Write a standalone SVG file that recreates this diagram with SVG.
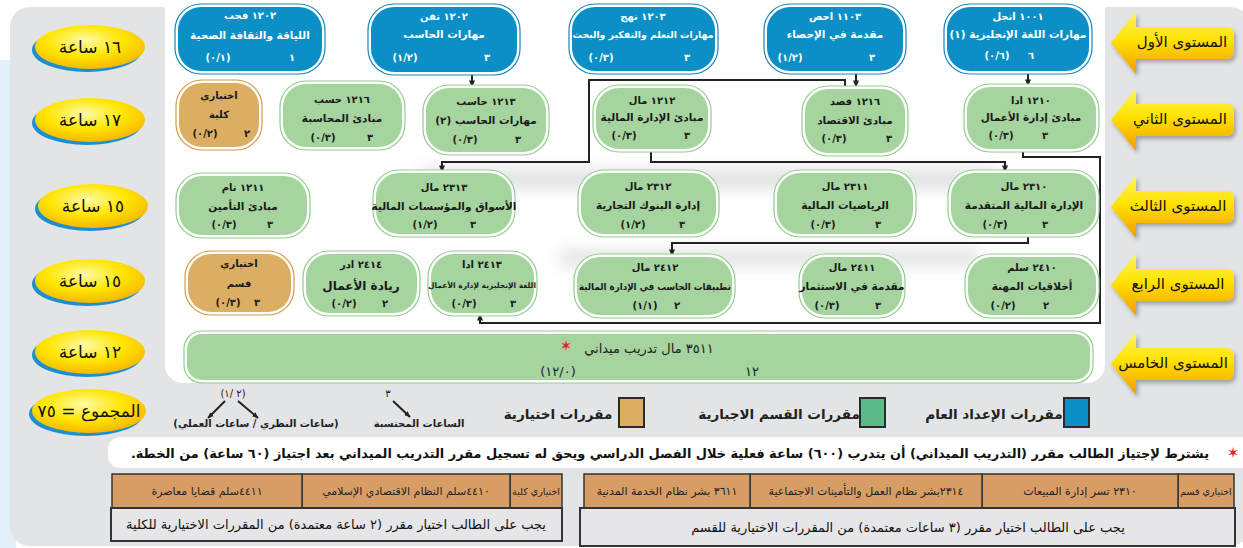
<svg xmlns="http://www.w3.org/2000/svg" width="1243" height="548" viewBox="0 0 1243 548">
<defs>
<style>
text{font-family:"DejaVu Sans",sans-serif;}
.ar{direction:rtl;text-anchor:middle}
.num{direction:ltr;unicode-bidi:bidi-override;text-anchor:middle}
.w{fill:#ffffff;font-weight:bold}
.k{fill:#1a1a1a;font-weight:bold}
.s1{font-size:10px}
.s2{font-size:10.5px}
.ob{fill:#ffffff;stroke:#1587bd;stroke-width:1.2}
.ib{fill:#0b8fc6;stroke:none}
.og{fill:#ffffff;stroke:#93cc8c;stroke-width:1.2}
.ig{fill:#a5d49f;stroke:none}
.ot{fill:#ffffff;stroke:#d49a48;stroke-width:1.2}
.it{fill:#dbae64;stroke:none}
.conn{fill:none;stroke:#222;stroke-width:2;marker-end:url(#ah)}
.lvl{font-size:15px;fill:#111;direction:rtl;text-anchor:middle}
.ovt{font-size:17px;fill:#111;direction:rtl;text-anchor:middle}
.lg{font-size:13.5px;font-weight:bold;fill:#222;direction:rtl;text-anchor:middle}
.tc{font-size:11px;fill:#222;direction:rtl;text-anchor:middle}
.tcs{font-size:9.5px;fill:#222;direction:rtl;text-anchor:middle}
.tb{font-size:13px;fill:#111;direction:rtl;text-anchor:middle}
.cell{fill:#d89d65;stroke:#333;stroke-width:1.5}
.cell2{fill:#e6e6e8;stroke:#333;stroke-width:2}
</style>
<marker id="ah" viewBox="0 0 8 8" refX="7.5" refY="4" markerWidth="7" markerHeight="7" markerUnits="userSpaceOnUse" orient="auto"><path d="M0,0.5 L8,4 L0,7.5 z" fill="#222"/></marker>
<marker id="ah2" viewBox="0 0 8 8" refX="7.5" refY="4" markerWidth="6" markerHeight="6" markerUnits="userSpaceOnUse" orient="auto"><path d="M0,0.5 L8,4 L0,7.5 z" fill="#222"/></marker>
<linearGradient id="yarrow" x1="0" y1="0" x2="0" y2="1"><stop offset="0" stop-color="#fff46a"/><stop offset="0.45" stop-color="#ffe300"/><stop offset="1" stop-color="#f39a00"/></linearGradient>
<radialGradient id="yov" cx="0.45" cy="0.35" r="0.7"><stop offset="0" stop-color="#fffaa8"/><stop offset="0.5" stop-color="#ffe600"/><stop offset="1" stop-color="#f5b000"/></radialGradient>
<filter id="sh" x="-20%" y="-30%" width="150%" height="170%"><feDropShadow dx="2" dy="3" stdDeviation="2" flood-color="#000" flood-opacity="0.3"/></filter>
<filter id="blur" x="-20%" y="-100%" width="140%" height="300%"><feGaussianBlur stdDeviation="7"/></filter>
<path id="arr" d="M1111,2 L1136,-30 L1136,-14 L1226,-14 Q1234,-14 1234,-6 L1234,10 Q1234,18 1226,18 L1136,18 L1136,33 Z"/>
</defs>

<!-- background -->
<rect x="0" y="0" width="1243" height="548" fill="#ffffff"/>
<rect x="0" y="60" width="16" height="488" fill="#e2f0fa"/>
<rect x="10" y="7" width="1240" height="539" rx="20" fill="#e3e4e6"/>
<rect x="165" y="-20" width="940" height="403" rx="18" fill="#ffffff"/>
<rect x="108" y="437" width="1150" height="31" rx="12" fill="#ffffff"/>
<rect x="420" y="168" width="580" height="22" fill="#c4c5c7" opacity="0.45" filter="url(#blur)"/>
<rect x="560" y="248" width="420" height="20" fill="#c4c5c7" opacity="0.4" filter="url(#blur)"/>
<rect x="560" y="338" width="200" height="14" fill="#9bb597" opacity="0.35" filter="url(#blur)"/>

<!-- left hour ovals -->
<g id="hours1"><ellipse cx="87" cy="50" rx="55" ry="22" fill="#1b8fd2"/><ellipse cx="90" cy="47" rx="55" ry="22" fill="url(#yov)"/><text class="ovt" x="90" y="53">١٦ ساعة</text></g>
<g id="hours2"><ellipse cx="87" cy="123" rx="55" ry="22" fill="#1b8fd2"/><ellipse cx="90" cy="120" rx="55" ry="22" fill="url(#yov)"/><text class="ovt" x="90" y="126">١٧ ساعة</text></g>
<g id="hours3"><ellipse cx="90" cy="209" rx="55" ry="22" fill="#1b8fd2"/><ellipse cx="93" cy="206" rx="55" ry="22" fill="url(#yov)"/><text class="ovt" x="93" y="212">١٥ ساعة</text></g>
<g id="hours4"><ellipse cx="87" cy="284" rx="55" ry="22" fill="#1b8fd2"/><ellipse cx="90" cy="281" rx="55" ry="22" fill="url(#yov)"/><text class="ovt" x="90" y="287">١٥ ساعة</text></g>
<g id="hours5"><ellipse cx="87" cy="355" rx="55" ry="22" fill="#1b8fd2"/><ellipse cx="90" cy="352" rx="55" ry="22" fill="url(#yov)"/><text class="ovt" x="90" y="358">١٢ ساعة</text></g>
<g id="hours-total"><ellipse cx="86" cy="414" rx="57" ry="22" fill="#1b8fd2"/><ellipse cx="89" cy="411" rx="57" ry="22" fill="url(#yov)"/><text class="ovt" x="89" y="417">المجموع = ٧٥</text></g>

<!-- right level arrows -->
<g id="level1" transform="translate(0,41)"><use href="#arr" fill="url(#yarrow)" filter="url(#sh)"/><text class="lvl" x="1182" y="6">المستوى الأول</text></g>
<g id="level2" transform="translate(0,118)"><use href="#arr" fill="url(#yarrow)" filter="url(#sh)"/><text class="lvl" x="1180" y="6">المستوى الثاني</text></g>
<g id="level3" transform="translate(0,205)"><use href="#arr" fill="url(#yarrow)" filter="url(#sh)"/><text class="lvl" x="1178" y="6">المستوى الثالث</text></g>
<g id="level4" transform="translate(0,283)"><use href="#arr" fill="url(#yarrow)" filter="url(#sh)"/><text class="lvl" x="1178" y="6">المستوى الرابع</text></g>
<g id="level5" transform="translate(0,362)"><use href="#arr" fill="url(#yarrow)" filter="url(#sh)"/><text class="lvl" x="1173" y="6">المستوى الخامس</text></g>

<!-- connectors -->
<g id="connectors">
<path class="conn" d="M472,73 V87"/>
<path class="conn" d="M856,72 V87"/>
<path class="conn" d="M1028,72 V86"/>
<path class="conn" d="M845,88 V80 H589 V162 H442 V172"/>
<path class="conn" d="M651,151 V162 H1005 V172"/>
<path class="conn" d="M1023,150 V157 H1100 V323 H480 V314"/>
<path class="conn" d="M1028,235 V243 H672 V256"/>
</g>

<!-- level 1 -->
<g id="n1202f"><rect class="ob" x="175" y="4" width="150" height="70" rx="26"/><rect class="ib" x="178" y="7" width="144" height="64" rx="23"/>
<text class="ar w s1" x="250" y="19">١٢٠٢ فجب</text><text class="ar w s2" x="250" y="39">اللياقة والثقافة الصحية</text>
<text class="ar w s1" x="292" y="61">١</text><text class="num w s1" x="218" y="61">(٠/١)</text></g>
<g id="n1202t"><rect class="ob" x="368" y="4" width="152" height="71" rx="26"/><rect class="ib" x="371" y="7" width="146" height="65" rx="23"/>
<text class="ar w s1" x="444" y="20">١٢٠٢ تقن</text><text class="ar w s2" x="444" y="38">مهارات الحاسب</text>
<text class="ar w s1" x="487" y="61">٣</text><text class="num w s1" x="405" y="61">(١/٢)</text></g>
<g id="n1203"><rect class="ob" x="569" y="4" width="149" height="70" rx="26"/><rect class="ib" x="572" y="7" width="143" height="64" rx="23"/>
<text class="ar w s1" x="643" y="20">١٢٠٣ نهج</text><text class="ar w" style="font-size:9.5px" x="643" y="38" textLength="141" lengthAdjust="spacingAndGlyphs">مهارات التعلم والتفكير والبحث</text>
<text class="ar w s1" x="687" y="61">٣</text><text class="num w s1" x="601" y="61">(٠/٣)</text></g>
<g id="n1103"><rect class="ob" x="764" y="4" width="142" height="70" rx="26"/><rect class="ib" x="767" y="7" width="136" height="64" rx="23"/>
<text class="ar w s1" x="835" y="20">١١٠٣ احص</text><text class="ar w s2" x="835" y="38">مقدمة في الإحصاء</text>
<text class="ar w s1" x="872" y="61">٣</text><text class="num w s1" x="790" y="61">(١/٢)</text></g>
<g id="n1001"><rect class="ob" x="944" y="4" width="148" height="70" rx="26"/><rect class="ib" x="947" y="7" width="142" height="64" rx="23"/>
<text class="ar w s1" x="1018" y="20">١٠٠١ انجل</text><text class="ar w s2" x="1018" y="38">مهارات اللغة الإنجليزية (١)</text>
<text class="ar w s1" x="1031" y="59">٦</text><text class="num w s1" x="997" y="59">(٠/٦)</text></g>

<!-- level 2 -->
<g id="elective-college"><rect class="ot" x="176" y="80" width="86" height="70" rx="26"/><rect class="it" x="179" y="83" width="80" height="64" rx="23"/>
<text class="ar k s1" x="219" y="99">اختياري</text><text class="ar k s1" x="219" y="118">كلية</text>
<text class="ar k s1" x="247" y="137">٢</text><text class="num k s1" x="205" y="137">(٠/٢)</text></g>
<g id="n1216h"><rect class="og" x="280" y="81" width="125" height="69" rx="26"/><rect class="ig" x="283" y="84" width="119" height="63" rx="23"/>
<text class="ar k s1" x="342" y="103">١٢١٦ حسب</text><text class="ar k s2" x="342" y="122">مبادئ المحاسبة</text>
<text class="ar k s1" x="370" y="141">٣</text><text class="num k s1" x="323" y="141">(٠/٣)</text></g>
<g id="n1213"><rect class="og" x="423" y="85" width="126" height="70" rx="26"/><rect class="ig" x="426" y="88" width="120" height="64" rx="23"/>
<text class="ar k s1" x="486" y="105">١٢١٣ حاسب</text><text class="ar k s2" x="486" y="124">مهارات الحاسب (٢)</text>
<text class="ar k s1" x="518" y="143">٣</text><text class="num k s1" x="465" y="143">(٠/٣)</text></g>
<g id="n1212"><rect class="og" x="593" y="85" width="118" height="67" rx="26"/><rect class="ig" x="596" y="88" width="112" height="61" rx="23"/>
<text class="ar k s1" x="652" y="104">١٢١٢ مال</text><text class="ar k s2" x="652" y="121">مبادئ الإدارة المالية</text>
<text class="ar k s1" x="687" y="139">٣</text><text class="num k s1" x="624" y="139">(٠/٣)</text></g>
<g id="n1216q"><rect class="og" x="802" y="86" width="106" height="70" rx="26"/><rect class="ig" x="805" y="89" width="100" height="64" rx="23"/>
<text class="ar k s1" x="855" y="105">١٢١٦ قصد</text><text class="ar k s2" x="855" y="124">مبادئ الاقتصاد</text>
<text class="ar k s1" x="889" y="142">٣</text><text class="num k s1" x="834" y="142">(٠/٣)</text></g>
<g id="n1210"><rect class="og" x="964" y="84" width="135" height="68" rx="26"/><rect class="ig" x="967" y="87" width="129" height="62" rx="23"/>
<text class="ar k s1" x="1031" y="104">١٢١٠ ادا</text><text class="ar k s2" x="1031" y="121">مبادئ إدارة الأعمال</text>
<text class="ar k s1" x="1045" y="139">٣</text><text class="num k s1" x="1001" y="139">(٠/٣)</text></g>

<!-- level 3 -->
<g id="n1211"><rect class="og" x="176" y="173" width="134" height="65" rx="26"/><rect class="ig" x="179" y="176" width="128" height="59" rx="23"/>
<text class="ar k s1" x="243" y="191">١٢١١ تام</text><text class="ar k s2" x="243" y="210">مبادئ التأمين</text>
<text class="ar k s1" x="270" y="228">٣</text><text class="num k s1" x="224" y="228">(٠/٣)</text></g>
<g id="n2313"><rect class="og" x="373" y="170" width="142" height="67" rx="26"/><rect class="ig" x="376" y="173" width="136" height="61" rx="23"/>
<text class="ar k s1" x="444" y="191">٢٣١٣ مال</text><text class="ar k s2" x="444" y="210">الأسواق والمؤسسات المالية</text>
<text class="ar k s1" x="473" y="228">٣</text><text class="num k s1" x="425" y="228">(١/٢)</text></g>
<g id="n2312"><rect class="og" x="578" y="170" width="141" height="67" rx="26"/><rect class="ig" x="581" y="173" width="135" height="61" rx="23"/>
<text class="ar k s1" x="648" y="190">٢٣١٢ مال</text><text class="ar k s2" x="648" y="209">إدارة البنوك التجارية</text>
<text class="ar k s1" x="682" y="228">٣</text><text class="num k s1" x="633" y="228">(١/٢)</text></g>
<g id="n2311"><rect class="og" x="774" y="170" width="142" height="67" rx="26"/><rect class="ig" x="777" y="173" width="136" height="61" rx="23"/>
<text class="ar k s1" x="845" y="190">٢٣١١ مال</text><text class="ar k s2" x="845" y="209">الرياضيات المالية</text>
<text class="ar k s1" x="878" y="228">٣</text><text class="num k s1" x="823" y="228">(٠/٣)</text></g>
<g id="n2310"><rect class="og" x="948" y="170" width="151" height="67" rx="26"/><rect class="ig" x="951" y="173" width="145" height="61" rx="23"/>
<text class="ar k s1" x="1024" y="190">٢٣١٠ مال</text><text class="ar k s2" x="1024" y="209">الإدارة المالية المتقدمة</text>
<text class="ar k s1" x="1045" y="228">٣</text><text class="num k s1" x="995" y="228">(٠/٣)</text></g>

<!-- level 4 -->
<g id="elective-dept"><rect class="ot" x="185" y="251" width="109" height="64" rx="26"/><rect class="it" x="188" y="254" width="103" height="58" rx="23"/>
<text class="ar k s1" x="239" y="267">اختياري</text><text class="ar k s1" x="239" y="287">قسم</text>
<text class="ar k s1" x="257" y="306">٣</text><text class="num k s1" x="228" y="306">(٠/٣)</text></g>
<g id="n2414"><rect class="og" x="303" y="251" width="117" height="65" rx="26"/><rect class="ig" x="306" y="254" width="111" height="59" rx="23"/>
<text class="ar k s1" x="361" y="268">٢٤١٤ ادر</text><text class="ar k" style="font-size:12px" x="361" y="290">ريادة الأعمال</text>
<text class="ar k s1" x="385" y="307">٢</text><text class="num k s1" x="344" y="307">(٠/٢)</text></g>
<g id="n2413"><rect class="og" x="428" y="251" width="109" height="65" rx="26"/><rect class="ig" x="431" y="254" width="103" height="59" rx="23"/>
<text class="ar k s1" x="482" y="268">٢٤١٣ ادا</text><text class="ar k" style="font-size:7.5px" x="482" y="288">اللغة الإنجليزية لإدارة الأعمال</text>
<text class="ar k s1" x="513" y="307">٣</text><text class="num k s1" x="464" y="307">(٠/٣)</text></g>
<g id="n2412"><rect class="og" x="574" y="254" width="161" height="64" rx="26"/><rect class="ig" x="577" y="257" width="155" height="58" rx="23"/>
<text class="ar k s1" x="655" y="271">٢٤١٢ مال</text><text class="ar k" style="font-size:9.5px" x="655" y="290" textLength="152" lengthAdjust="spacingAndGlyphs">تطبيقات الحاسب في الإدارة المالية</text>
<text class="ar k s1" x="677" y="309">٢</text><text class="num k s1" x="645" y="309">(١/١)</text></g>
<g id="n2411"><rect class="og" x="799" y="254" width="106" height="64" rx="26"/><rect class="ig" x="802" y="257" width="100" height="58" rx="23"/>
<text class="ar k s1" x="852" y="271">٢٤١١ مال</text><text class="ar k s2" x="852" y="290">مقدمة في الاستثمار</text>
<text class="ar k s1" x="878" y="309">٣</text><text class="num k s1" x="827" y="309">(٠/٣)</text></g>
<g id="n2410"><rect class="og" x="965" y="254" width="134" height="64" rx="26"/><rect class="ig" x="968" y="257" width="128" height="58" rx="23"/>
<text class="ar k s1" x="1032" y="271">٢٤١٠ سلم</text><text class="ar k s2" x="1032" y="290">أخلاقيات المهنة</text>
<text class="ar k s1" x="1046" y="309">٢</text><text class="num k s1" x="1003" y="309">(٠/٢)</text></g>

<!-- level 5 -->
<g id="n3511"><rect class="og" x="184" y="331" width="909" height="52" rx="18"/><rect class="ig" x="187" y="334" width="903" height="46" rx="15"/>
<text class="ar" style="font-size:13px;fill:#222" x="649" y="353">٣٥١١ مال   تدريب ميداني</text>
<text x="566" y="351" style="font-size:15px;fill:#e8232a;text-anchor:middle">✶</text>
<text class="ar" style="font-size:13px;fill:#222" x="752" y="376">١٢</text>
<text class="num" style="font-size:13px;fill:#222" x="558" y="376">(١٢/٠)</text></g>

<!-- legend -->
<g id="legend">
<rect x="1064" y="398" width="25" height="29" fill="#0b8fc6" stroke="#2a2a2a" stroke-width="2"/>
<text class="lg" x="994" y="419">مقررات الإعداد العام</text>
<rect x="860" y="398" width="25" height="29" fill="#5dba8a" stroke="#2a2a2a" stroke-width="2"/>
<text class="lg" x="779" y="419">مقررات القسم الاجبارية</text>
<rect x="619" y="398" width="25" height="29" fill="#dbae64" stroke="#2a2a2a" stroke-width="2"/>
<text class="lg" x="558" y="419">مقررات اختيارية</text>
<text class="ar" style="font-size:10px;fill:#222" x="388" y="397">٣</text>
<path d="M393,401 L410,417" stroke="#222" stroke-width="2" marker-end="url(#ah2)"/>
<text class="ar" style="font-size:10px;font-weight:bold;fill:#222" x="419" y="427">الساعات المحتسبة</text>
<text class="num" style="font-size:10px;fill:#222" x="233" y="397">(١/ ٢)</text>
<path d="M225,401 L208,418" stroke="#222" stroke-width="2" marker-end="url(#ah2)"/>
<path d="M238,401 L258,418" stroke="#222" stroke-width="2" marker-end="url(#ah2)"/>
<text class="ar" style="font-size:10px;font-weight:bold;fill:#222" x="256" y="427">(ساعات النظري / ساعات العملي)</text>
</g>

<!-- note -->
<g id="note">
<text x="1233" y="458" style="font-size:15px;fill:#e8232a;text-anchor:middle">✶</text>
<text class="ar" style="font-size:12.9px;font-weight:bold;fill:#111" x="670" y="458">يشترط لإجتياز الطالب مقرر (التدريب الميداني) أن يتدرب (٦٠٠) ساعة فعلية خلال الفصل الدراسي ويحق له تسجيل مقرر التدريب الميداني بعد اجتياز (٦٠ ساعة) من الخطة.</text>
</g>

<!-- department electives table -->
<g id="table-dept">
<rect class="cell" x="1178" y="474" width="56" height="34"/>
<rect class="cell" x="982" y="474" width="196" height="34"/>
<rect class="cell" x="750" y="474" width="232" height="34"/>
<rect class="cell" x="584" y="474" width="166" height="34"/>
<rect class="cell2" x="580" y="508" width="655" height="38"/>
<text class="tcs" x="1206" y="495">اختياري قسم</text>
<text class="tc" x="1080" y="495">٢٣١٠ تسر  إدارة المبيعات</text>
<text class="tc" x="866" y="495">٢٣١٤بشر نظام العمل والتأمينات الاجتماعية</text>
<text class="tc" x="667" y="495">٣٦١١ بشر نظام الخدمة المدنية</text>
<text class="tb" x="908" y="532">يجب على الطالب اختيار مقرر (٣ ساعات معتمدة) من المقررات الاختيارية للقسم</text>
</g>

<!-- college electives table -->
<g id="table-college">
<rect class="cell" x="510" y="474" width="52" height="34"/>
<rect class="cell" x="302" y="474" width="208" height="34"/>
<rect class="cell" x="112" y="474" width="190" height="34"/>
<rect class="cell2" x="111" y="508" width="451" height="33"/>
<text class="tcs" x="536" y="495">اختياري كلية</text>
<text class="tc" x="406" y="495">٤٤١٠سلم  النظام الاقتصادي الإسلامي</text>
<text class="tc" x="207" y="495">٤٤١١سلم قضايا معاصرة</text>
<text class="tb" x="336" y="529">يجب على الطالب اختيار مقرر (٢ ساعة معتمدة) من المقررات الاختيارية للكلية</text>
</g>
</svg>
